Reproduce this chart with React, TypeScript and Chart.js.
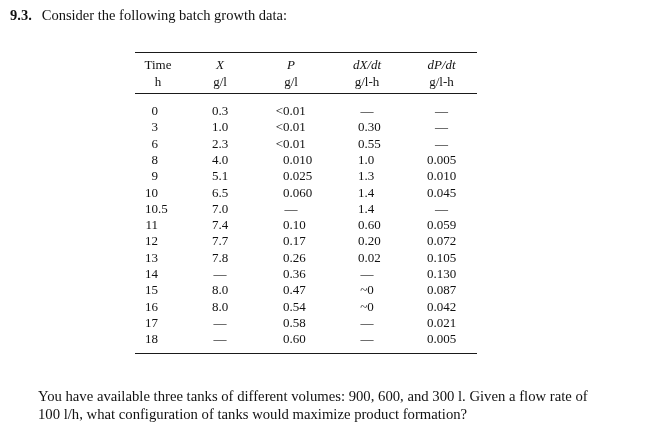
import React, { useEffect, useRef } from 'react';
import { Chart, registerables } from 'chart.js';

Chart.register(...registerables);

// ---- data ----
const headerNames = ['Time', 'X', 'P', 'dX/dt', 'dP/dt'];
const headerUnits = ['h', 'g/l', 'g/l', 'g/l-h', 'g/l-h'];
const timeH = ['0', '3', '6', '8', '9', '10', '10.5', '11', '12', '13', '14', '15', '16', '17', '18'];
const biomassX = ['0.3', '1.0', '2.3', '4.0', '5.1', '6.5', '7.0', '7.4', '7.7', '7.8', '—', '8.0', '8.0', '—', '—'];
const productP = ['<0.01', '<0.01', '<0.01', '0.010', '0.025', '0.060', '—', '0.10', '0.17', '0.26', '0.36', '0.47', '0.54', '0.58', '0.60'];
const rateDXdt = ['—', '0.30', '0.55', '1.0', '1.3', '1.4', '1.4', '0.60', '0.20', '0.02', '—', '~0', '~0', '—', '—'];
const rateDPdt = ['—', '—', '—', '0.005', '0.010', '0.045', '—', '0.059', '0.072', '0.105', '0.130', '0.087', '0.042', '0.021', '0.005'];

const columns = [timeH, biomassX, productP, rateDXdt, rateDPdt];
const italicHeader = [false, true, true, true, true];

// ---- layout (not data) ----
const W = 668;
const H = 428;
const colCenter = [158, 220, 291, 367, 441.5];
const colDecimal = [158, 218.5, 289.5, 364.5, 433.5];
const ROW0 = 110.7;
const ROWSTEP = 16.3;
const headerRowY = [-2.804, -1.779];
const ruleY = [-3.6, -1.086, 14.88];
const ruleX = [135, 477];
const FONT = '"Liberation Serif", "Times New Roman", serif';

const tablePlugin = {
  id: 'tableText',
  afterDatasetsDraw(chart: any) {
    const ctx = chart.ctx as CanvasRenderingContext2D;
    const xs = chart.scales.x;
    const ys = chart.scales.y;
    ctx.save();
    ctx.fillStyle = '#111';
    ctx.textBaseline = 'alphabetic';
    const base = 4.3;

    // rules
    ctx.strokeStyle = '#1a1a1a';
    ctx.lineWidth = 1;
    ruleY.forEach((v) => {
      const y = Math.round(ys.getPixelForValue(v)) + 0.5;
      ctx.beginPath();
      ctx.moveTo(xs.getPixelForValue(ruleX[0]), y);
      ctx.lineTo(xs.getPixelForValue(ruleX[1]), y);
      ctx.stroke();
    });

    // headers
    headerNames.forEach((h, c) => {
      ctx.textAlign = 'center';
      ctx.font = (italicHeader[c] ? 'italic ' : '') + '13px ' + FONT;
      ctx.fillText(h, xs.getPixelForValue(colCenter[c]), ys.getPixelForValue(headerRowY[0]) + base);
      ctx.font = '13px ' + FONT;
      ctx.fillText(headerUnits[c], xs.getPixelForValue(colCenter[c]), ys.getPixelForValue(headerRowY[1]) + base);
    });

    // cells
    ctx.font = '13px ' + FONT;
    chart.data.datasets.forEach((ds: any, c: number) => {
      const meta = chart.getDatasetMeta(c);
      meta.data.forEach((el: any, i: number) => {
        const txt: string = columns[c][i];
        const y = el.y + base;
        const dot = txt.indexOf('.');
        if (dot >= 0) {
          const pre = ctx.measureText(txt.slice(0, dot)).width;
          ctx.textAlign = 'left';
          ctx.fillText(txt, el.x - pre, y);
        } else if (/^\d+$/.test(txt)) {
          ctx.textAlign = 'right';
          ctx.fillText(txt, el.x, y);
        } else {
          ctx.textAlign = 'center';
          ctx.fillText(txt, xs.getPixelForValue(colCenter[c]), y);
        }
      });
    });
    ctx.restore();
  },
};

export default function App() {
  const ref = useRef<HTMLCanvasElement | null>(null);
  useEffect(() => {
    document.body.style.margin = '0';
    if (!ref.current) return;
    const chart = new Chart(ref.current, {
      type: 'scatter',
      data: {
        datasets: columns.map((col, c) => ({
          label: headerNames[c],
          data: col.map((_, i) => ({ x: colDecimal[c], y: i })),
          pointRadius: 0,
          pointHoverRadius: 0,
          showLine: false,
        })),
      },
      options: {
        animation: false,
        responsive: false,
        devicePixelRatio: 1,
        events: [],
        layout: { padding: 0 },
        plugins: { legend: { display: false }, tooltip: { enabled: false }, title: { display: false } },
        scales: {
          x: { type: 'linear', display: false, min: 0, max: W },
          y: {
            type: 'linear',
            display: false,
            reverse: true,
            min: -ROW0 / ROWSTEP,
            max: (H - ROW0) / ROWSTEP,
          },
        },
      },
      plugins: [tablePlugin],
    });
    return () => chart.destroy();
  }, []);

  return (
    <div style={{ position: 'absolute', left: 0, top: 0, width: W, height: H, background: '#fff', overflow: 'hidden' }}>
      <canvas ref={ref} width={W} height={H} style={{ position: 'absolute', left: 0, top: 0, width: W, height: H }} />
      <div
        style={{
          position: 'absolute',
          left: 10,
          top: 6.6,
          font: '14.5px ' + FONT,
          lineHeight: '16.05px',
          whiteSpace: 'nowrap',
          color: '#111',
        }}
      >
        <b style={{ marginRight: 10 }}>9.3.</b>Consider the following batch growth data:
      </div>
      <div
        style={{
          position: 'absolute',
          left: 38,
          top: 387,
          font: '14.7px ' + FONT,
          lineHeight: '18px',
          whiteSpace: 'nowrap',
          color: '#111',
        }}
      >
        You have available three tanks of different volumes: 900, 600, and 300 l. Given a flow rate of
        <br />
        100 l/h, what configuration of tanks would maximize product formation?
      </div>
    </div>
  );
}
